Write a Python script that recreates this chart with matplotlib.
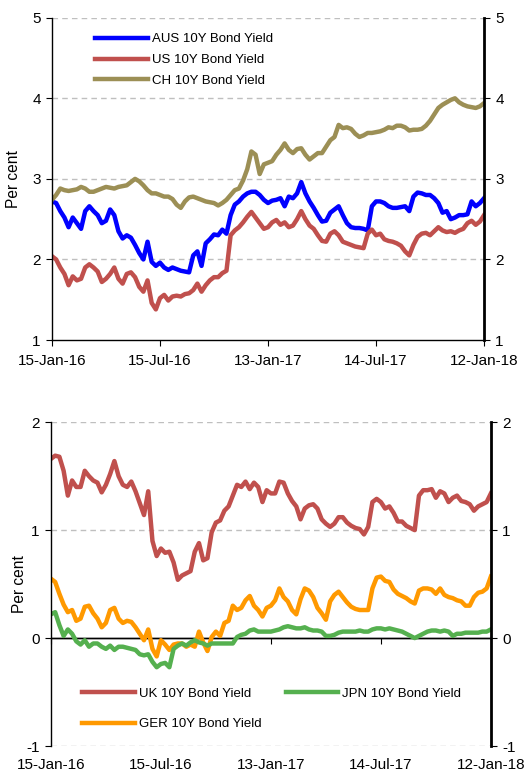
import numpy as np
import pandas as pd
import matplotlib
matplotlib.use('Agg')
import matplotlib.pyplot as plt
import matplotlib.dates as mdates

plt.rcParams['font.family'] = ['Liberation Sans', 'DejaVu Sans']

# weekly observations, 15-Jan-16 .. 12-Jan-18
dates = pd.date_range('2016-01-15', '2018-01-12', freq='7D')

aus = [2.72, 2.70, 2.60, 2.52, 2.40, 2.52, 2.45, 2.38, 2.60, 2.66,
       2.60, 2.55, 2.45, 2.48, 2.62, 2.55, 2.35, 2.26, 2.30, 2.27,
       2.18, 2.08, 2.00, 2.22, 1.97, 1.92, 1.96, 1.90, 1.87, 1.90,
       1.88, 1.86, 1.85, 1.84, 2.05, 2.10, 1.92, 2.20, 2.25, 2.31,
       2.30, 2.37, 2.32, 2.55, 2.68, 2.72, 2.78, 2.82, 2.84, 2.84,
       2.80, 2.74, 2.70, 2.73, 2.74, 2.76, 2.66, 2.78, 2.76, 2.82,
       2.96, 2.82, 2.72, 2.64, 2.55, 2.47, 2.48, 2.58, 2.62, 2.66,
       2.55, 2.45, 2.40, 2.39, 2.39, 2.38, 2.36, 2.66, 2.72, 2.72,
       2.70, 2.66, 2.64, 2.64, 2.65, 2.66, 2.60, 2.78, 2.83, 2.82,
       2.80, 2.80, 2.76, 2.70, 2.58, 2.60, 2.50, 2.52, 2.55, 2.55,
       2.56, 2.72, 2.66, 2.70, 2.76]

us = [2.04, 2.00, 1.90, 1.82, 1.68, 1.79, 1.74, 1.76, 1.90, 1.94,
      1.90, 1.85, 1.72, 1.76, 1.82, 1.90, 1.76, 1.70, 1.82, 1.84,
      1.78, 1.66, 1.60, 1.74, 1.46, 1.38, 1.52, 1.56, 1.49, 1.54,
      1.55, 1.54, 1.57, 1.58, 1.62, 1.70, 1.60, 1.68, 1.74, 1.78,
      1.78, 1.83, 1.86, 2.30, 2.36, 2.40, 2.46, 2.53, 2.59, 2.52,
      2.45, 2.38, 2.40, 2.46, 2.49, 2.43, 2.46, 2.40, 2.42, 2.50,
      2.60, 2.50, 2.42, 2.38, 2.30, 2.23, 2.22, 2.32, 2.35, 2.30,
      2.22, 2.20, 2.18, 2.16, 2.15, 2.14, 2.32, 2.37, 2.30, 2.32,
      2.25, 2.23, 2.22, 2.20, 2.17, 2.10, 2.05, 2.18, 2.28, 2.32,
      2.33, 2.30, 2.35, 2.40, 2.36, 2.34, 2.35, 2.33, 2.36, 2.38,
      2.45, 2.48, 2.43, 2.47, 2.55]

ch = [2.74, 2.80, 2.88, 2.86, 2.85, 2.86, 2.87, 2.90, 2.88, 2.84,
      2.84, 2.86, 2.88, 2.90, 2.89, 2.88, 2.90, 2.91, 2.92, 2.96,
      3.00, 2.97, 2.92, 2.86, 2.82, 2.82, 2.80, 2.78, 2.78, 2.75,
      2.68, 2.64, 2.72, 2.77, 2.78, 2.76, 2.74, 2.72, 2.71, 2.70,
      2.67, 2.70, 2.74, 2.80, 2.86, 2.88, 2.98, 3.12, 3.34, 3.30,
      3.06, 3.18, 3.20, 3.22, 3.30, 3.36, 3.44, 3.36, 3.32, 3.37,
      3.38, 3.30, 3.24, 3.28, 3.32, 3.32, 3.40, 3.48, 3.52, 3.67,
      3.63, 3.64, 3.62, 3.56, 3.52, 3.54, 3.57, 3.57, 3.58, 3.59,
      3.61, 3.64, 3.63, 3.66, 3.66, 3.64, 3.60, 3.61, 3.61, 3.62,
      3.66, 3.72, 3.80, 3.88, 3.92, 3.95, 3.98, 4.00, 3.95, 3.92,
      3.90, 3.89, 3.88, 3.90, 3.94]

uk = [1.66, 1.69, 1.68, 1.55, 1.32, 1.46, 1.40, 1.40, 1.55, 1.50,
      1.46, 1.44, 1.35, 1.42, 1.52, 1.64, 1.50, 1.42, 1.40, 1.45,
      1.36, 1.25, 1.14, 1.36, 0.90, 0.76, 0.83, 0.79, 0.80, 0.70,
      0.54, 0.58, 0.60, 0.62, 0.80, 0.88, 0.72, 0.74, 0.98, 1.07,
      1.09, 1.18, 1.22, 1.32, 1.42, 1.40, 1.45, 1.38, 1.44, 1.40,
      1.26, 1.37, 1.34, 1.34, 1.45, 1.44, 1.34, 1.27, 1.22, 1.10,
      1.20, 1.23, 1.24, 1.20, 1.10, 1.06, 1.03, 1.06, 1.12, 1.12,
      1.07, 1.04, 1.02, 1.01, 0.96, 1.03, 1.26, 1.29, 1.26, 1.20,
      1.22, 1.16, 1.08, 1.08, 1.04, 1.02, 1.00, 1.32, 1.37, 1.37,
      1.38, 1.30, 1.36, 1.34, 1.26, 1.30, 1.32, 1.27, 1.26, 1.24,
      1.18, 1.22, 1.24, 1.26, 1.34]

jpn = [0.22, 0.24, 0.12, 0.02, 0.08, 0.04, -0.03, -0.06, -0.02, -0.08,
       -0.05, -0.05, -0.08, -0.10, -0.07, -0.11, -0.08, -0.08, -0.09, -0.10,
       -0.11, -0.15, -0.16, -0.15, -0.22, -0.27, -0.24, -0.23, -0.27, -0.10,
       -0.07, -0.05, -0.07, -0.04, -0.02, -0.04, -0.05, -0.07, -0.05, -0.05,
       -0.05, -0.05, -0.05, -0.05, 0.01, 0.03, 0.04, 0.07, 0.08, 0.06,
       0.06, 0.06, 0.06, 0.07, 0.08, 0.10, 0.11, 0.10, 0.09, 0.09,
       0.10, 0.08, 0.07, 0.07, 0.06, 0.02, 0.02, 0.03, 0.05, 0.06,
       0.06, 0.06, 0.06, 0.07, 0.06, 0.06, 0.08, 0.09, 0.09, 0.08,
       0.09, 0.08, 0.07, 0.06, 0.04, 0.02, 0.00, 0.02, 0.04, 0.06,
       0.07, 0.07, 0.06, 0.07, 0.06, 0.02, 0.04, 0.04, 0.05, 0.05,
       0.05, 0.05, 0.06, 0.06, 0.08]

ger = [0.55, 0.52, 0.41, 0.31, 0.24, 0.26, 0.16, 0.18, 0.29, 0.30,
       0.23, 0.18, 0.10, 0.14, 0.26, 0.28, 0.18, 0.14, 0.16, 0.15,
       0.10, 0.04, -0.02, 0.08, -0.10, -0.17, -0.02, -0.06, -0.11, -0.06,
       -0.05, -0.05, -0.08, -0.06, -0.08, 0.06, -0.04, -0.12, 0.01, 0.06,
       0.02, 0.14, 0.16, 0.30, 0.26, 0.28, 0.35, 0.39, 0.30, 0.26,
       0.20, 0.28, 0.30, 0.35, 0.46, 0.38, 0.34, 0.26, 0.22, 0.36,
       0.46, 0.44, 0.38, 0.28, 0.23, 0.17, 0.34, 0.40, 0.43, 0.38,
       0.33, 0.29, 0.27, 0.26, 0.26, 0.26, 0.46, 0.56, 0.57, 0.53,
       0.52, 0.45, 0.41, 0.39, 0.37, 0.34, 0.32, 0.44, 0.46, 0.46,
       0.45, 0.41, 0.46, 0.40, 0.38, 0.37, 0.35, 0.34, 0.30, 0.30,
       0.38, 0.42, 0.43, 0.46, 0.57]

tick_dates = ['2016-01-15', '2016-07-15', '2017-01-13', '2017-07-14', '2018-01-12']

x = mdates.date2num(dates.to_pydatetime())
xt = mdates.date2num(pd.to_datetime(tick_dates).to_pydatetime())

fig = plt.figure(figsize=(5.25, 7.71), dpi=100)
ax1 = fig.add_axes([0.099, 0.559, 0.823, 0.418])
ax2 = fig.add_axes([0.097, 0.0324, 0.838, 0.420])

lw = 3.2


def style(ax, ylim, yticks):
    ax.set_xlim(xt[0], xt[-1])
    ax.set_ylim(*ylim)
    ax.set_yticks(yticks)
    ax.set_yticklabels([str(t) for t in yticks])
    ax.set_xticks(xt)
    ax.xaxis.set_major_formatter(mdates.DateFormatter('%d-%b-%y'))
    ax.spines['top'].set_visible(False)
    ax.spines['left'].set_linewidth(1.0)
    ax.spines['right'].set_linewidth(2.0)
    ax.tick_params(axis='y', which='both', left=True, right=True,
                   labelleft=True, labelright=True, direction='out',
                   length=4, width=0.8, labelsize=11, pad=4)
    ax.set_ylabel('Per cent', fontsize=11.2)


def grid(ax, levels):
    for lv in levels:
        ax.axhline(lv, color='#bfbfbf', linestyle=(0, (4, 3)), linewidth=1.0, zorder=0.5)


# top chart
ax1.plot(x, aus, color='#0000ff', lw=lw, label='AUS 10Y Bond Yield')
ax1.plot(x, us, color='#c0504d', lw=lw, label='US 10Y Bond Yield')
ax1.plot(x, ch, color='#9c8f55', lw=lw, label='CH 10Y Bond Yield')
style(ax1, (1, 5), [1, 2, 3, 4, 5])
grid(ax1, [2, 3, 4, 5])
ax1.tick_params(axis='x', direction='out', length=4, width=0.8, labelsize=11, pad=6)
ax1.spines['bottom'].set_linewidth(1.0)
ax1.yaxis.set_label_coords(-0.072, 0.5)
ax1.legend(loc='upper left', bbox_to_anchor=(0.0995, 0.952), frameon=False,
           fontsize=9.5, handlelength=4.0, handletextpad=0.3,
           labelspacing=0.65, borderpad=0, borderaxespad=0)

# bottom chart
ax2.plot(x, uk, color='#c0504d', lw=lw, label='UK 10Y Bond Yield')
ax2.plot(x, ger, color='#ff9900', lw=lw, label='GER 10Y Bond Yield')
ax2.plot(x, jpn, color='#55b04f', lw=lw, label='JPN 10Y Bond Yield')
style(ax2, (-1, 2), [-1, 0, 1, 2])
grid(ax2, [-1, 1, 2])
ax2.axhline(0, color='black', lw=1.0, zorder=1.5)
ax2.spines['bottom'].set_visible(False)
ax2.tick_params(axis='x', length=0, labelsize=11, pad=8.5)
ax2.yaxis.set_label_coords(-0.055, 0.5)
zero = ax2.secondary_xaxis(1 / 3)
zero.set_xticks(xt)
zero.set_xticklabels([])
zero.tick_params(direction='out', length=4, width=0.8)
zero.spines['bottom'].set_linewidth(1.0)
ax2.legend(loc='upper left', bbox_to_anchor=(0.0705, 0.181), frameon=False,
           fontsize=9.5, ncol=2, handlelength=4.0, handletextpad=0.3,
           labelspacing=1.41, columnspacing=1.85, borderpad=0, borderaxespad=0)

fig.savefig('out.png', dpi=100)
